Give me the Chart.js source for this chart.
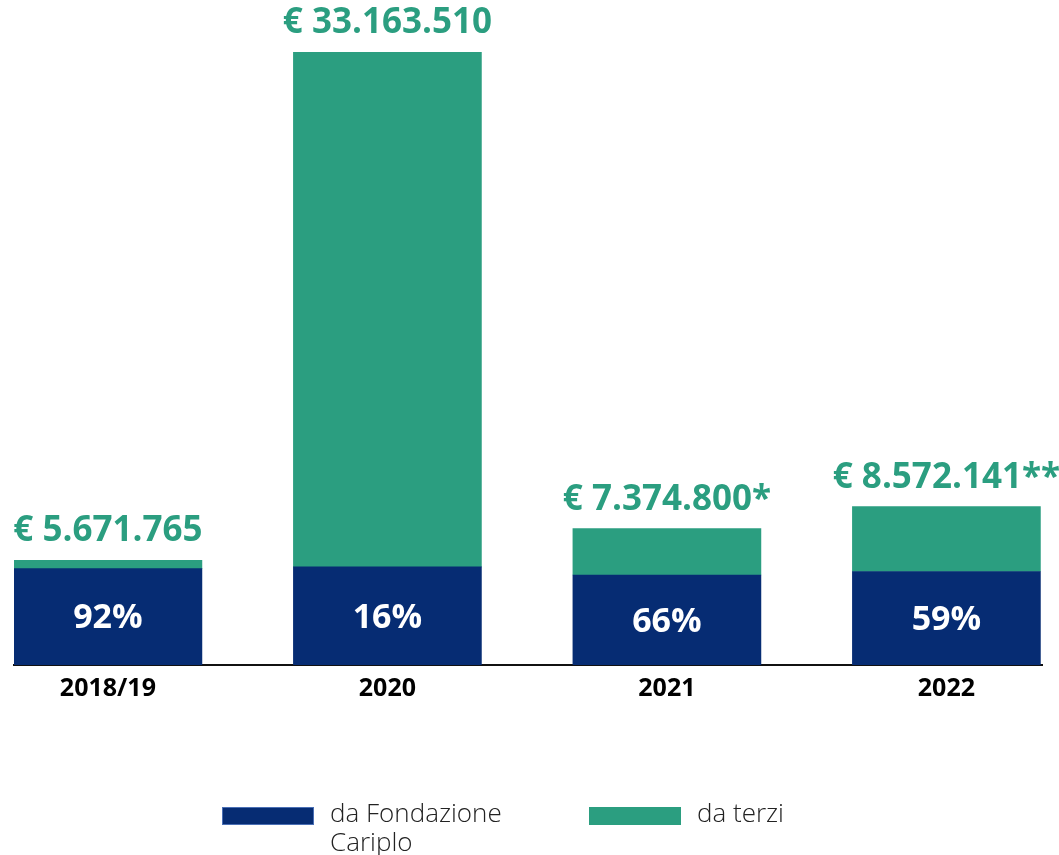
<!DOCTYPE html>
<html>
<head>
<meta charset="utf-8">
<script src="https://cdn.jsdelivr.net/npm/chart.js@4/dist/chart.umd.min.js"></script>
<style>
  html, body { margin: 0; padding: 0; background: #ffffff; }
  #wrap { position: relative; width: 1059px; height: 855px; }
  #c { position: absolute; left: 0; top: 0; }
  .lg { position: absolute; font-family: "Open Sans", sans-serif; font-weight: 300; font-size: 26px; color: #222; line-height: 29px; white-space: nowrap; }
  .sw { position: absolute; height: 18px; width: 92px; }
</style>
</head>
<body>
<div id="wrap">
  <canvas id="c" width="1059" height="855"></canvas>
  <div class="sw" style="left:222px; top:807px; background:#062c73; border:1px solid #4a6fb5; box-sizing:border-box;"></div>
  <div class="lg" style="left:330px; top:798px;">da Fondazione<br>Cariplo</div>
  <div class="sw" style="left:589px; top:807px; background:#2b9e80;"></div>
  <div class="lg" style="left:697px; top:798px;">da terzi</div>
</div>
<script>
// ---- data (values in millions of euro) ----
const categories = ['2018/19', '2020', '2021', '2022'];
const daFondazione = [5.22, 5.31, 4.87, 5.06];
const daTerzi = [0.45, 27.86, 2.51, 3.51];
const percentLabels = ['92%', '16%', '66%', '59%'];
const totalLabels = ['€ 5.671.765', '€ 33.163.510', '€ 7.374.800*', '€ 8.572.141**'];
const seriesNames = ['da Fondazione Cariplo', 'da terzi'];

const NAVY = '#062c73';
const GREEN = '#2b9e80';

const labelPlugin = {
  id: 'barLabels',
  afterDatasetsDraw(chart) {
    const ctx = chart.ctx;
    const m0 = chart.getDatasetMeta(0);
    const m1 = chart.getDatasetMeta(1);
    ctx.save();
    ctx.textAlign = 'center';
    m0.data.forEach((bar, i) => {
      const mid = (bar.y + bar.base) / 2;
      ctx.fillStyle = '#ffffff';
      ctx.font = '700 34px "Open Sans", sans-serif';
      ctx.textBaseline = 'middle';
      ctx.fillText(percentLabels[i], bar.x, mid + 2);
    });
    m1.data.forEach((bar, i) => {
      ctx.fillStyle = GREEN;
      ctx.font = '700 35px "Open Sans", sans-serif';
      ctx.textBaseline = 'alphabetic';
      ctx.fillText(totalLabels[i], bar.x, bar.y - 19);
    });
    ctx.restore();
  }
};

new Chart(document.getElementById('c'), {
  type: 'bar',
  data: {
    datasets: [
      {
        label: seriesNames[0],
        data: daFondazione.map((v, i) => ({ x: i, y: v })),
        backgroundColor: NAVY,
        barThickness: 188,
        borderWidth: 0
      },
      {
        label: seriesNames[1],
        data: daTerzi.map((v, i) => ({ x: i, y: v })),
        backgroundColor: GREEN,
        barThickness: 188,
        borderWidth: 0
      }
    ]
  },
  options: {
    responsive: false,
    animation: false,
    layout: { padding: { left: 14, right: 17, top: 0, bottom: 142 } },
    plugins: {
      legend: { display: false },
      tooltip: { enabled: false }
    },
    scales: {
      x: {
        type: 'linear',
        stacked: true,
        offset: false,
        min: -0.336,
        max: 3.342,
        grid: { display: false, drawTicks: false, offset: false },
        border: { display: true, color: '#111', width: 2 },
        afterBuildTicks(scale) {
          scale.ticks = categories.map((c, i) => ({ value: i }));
        },
        ticks: {
          autoSkip: false,
          maxRotation: 0,
          padding: 9,
          color: '#000',
          font: { family: '"Open Sans", sans-serif', weight: '700', size: 25 },
          callback: (v) => categories[v]
        }
      },
      y: {
        stacked: true,
        display: false,
        min: 0,
        max: 36
      }
    }
  },
  plugins: [labelPlugin]
});
</script>
</body>
</html>
